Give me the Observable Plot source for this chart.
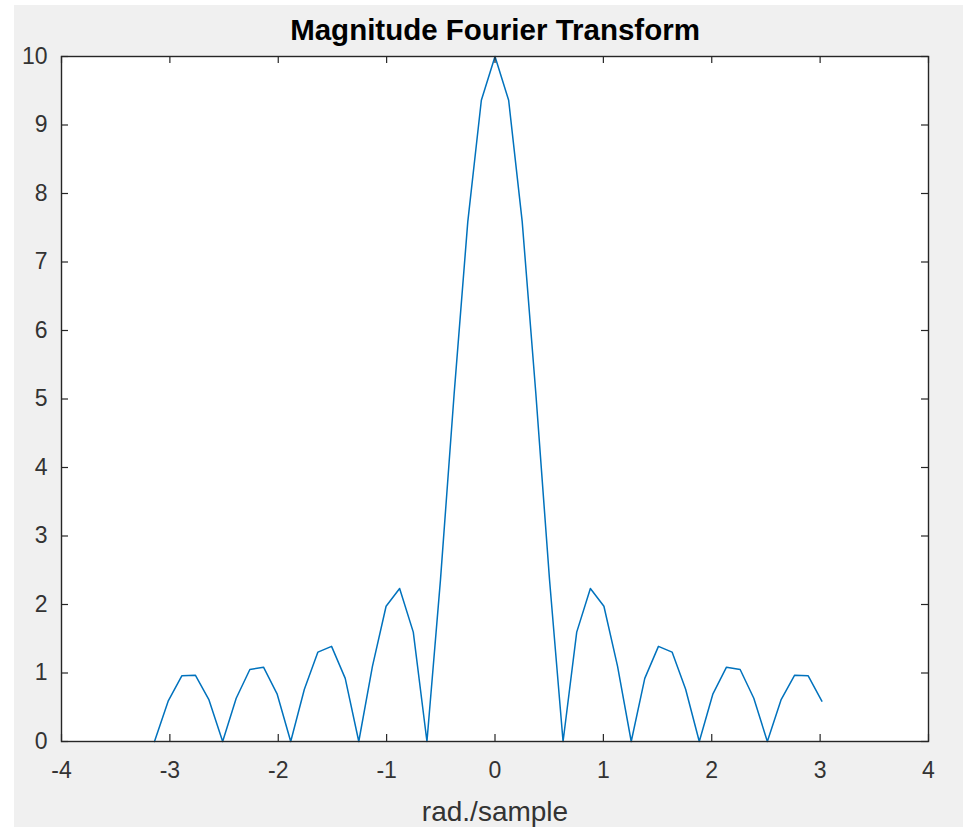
<!DOCTYPE html>
<html>
<head>
<meta charset="utf-8">
<script src="https://cdn.jsdelivr.net/npm/d3@7"></script>
<script src="https://cdn.jsdelivr.net/npm/@observablehq/plot@0.6"></script>
<style>
  html, body { margin: 0; padding: 0; background: #ffffff; }
  #bg { position: absolute; left: 14px; top: 5px; width: 949px; height: 822px; background: #f0f0f0; }
  #chart { position: absolute; left: 0; top: 0; }
</style>
</head>
<body>
<div id="bg"></div>
<div id="chart"></div>
<script>
// frequency samples (rad./sample)
const freq = [
  -3.142, -3.016, -2.890, -2.765, -2.639, -2.513, -2.388, -2.262, -2.136, -2.011,
  -1.885, -1.759, -1.634, -1.508, -1.382, -1.257, -1.131, -1.005, -0.880, -0.754,
  -0.628, -0.503, -0.377, -0.251, -0.126, 0.000, 0.126, 0.251, 0.377, 0.503,
  0.628, 0.754, 0.880, 1.005, 1.131, 1.257, 1.382, 1.508, 1.634, 1.759,
  1.885, 2.011, 2.136, 2.262, 2.388, 2.513, 2.639, 2.765, 2.890, 3.016
];
// magnitude values
const magnitude = [
  0.000, 0.589, 0.959, 0.968, 0.607, 0.000, 0.632, 1.051, 1.085, 0.696,
  0.000, 0.763, 1.305, 1.389, 0.922, 0.000, 1.097, 1.974, 2.234, 1.597,
  0.000, 2.364, 5.076, 7.589, 9.361, 10.000, 9.361, 7.589, 5.076, 2.364,
  0.000, 1.597, 2.234, 1.974, 1.097, 0.000, 0.922, 1.389, 1.305, 0.763,
  0.000, 0.696, 1.085, 1.051, 0.632, 0.000, 0.607, 0.968, 0.959, 0.589
];
const xTicks = [-4, -3, -2, -1, 0, 1, 2, 3, 4];
const yTicks = [0, 1, 2, 3, 4, 5, 6, 7, 8, 9, 10];
const titleText = "Magnitude Fourier Transform";
const xLabel = "rad./sample";

const data = freq.map((f, i) => ({f, m: magnitude[i]}));

const W = 963, H = 827;
const mL = 61, mT = 56, mR = 35, mB = 86;
const pw = W - mL - mR, ph = H - mT - mB;
const tk = 7;
const axisColor = "#262626";
const font = "'Liberation Sans', Arial, Helvetica, sans-serif";

const chart = Plot.plot({
  width: W,
  height: H,
  marginLeft: mL,
  marginTop: mT,
  marginRight: mR,
  marginBottom: mB,
  style: {background: "transparent", fontFamily: font, overflow: "visible"},
  x: {domain: [-4, 4], axis: null},
  y: {domain: [0, 10], axis: null},
  marks: [
    Plot.frame({fill: "white", stroke: null}),
    Plot.line(data, {x: "f", y: "m", stroke: "#0072BD", strokeWidth: 1.5}),
    Plot.tickX(xTicks, {x: d => d, stroke: axisColor, strokeWidth: 1.2, insetTop: ph - tk}),
    Plot.tickX(xTicks, {x: d => d, stroke: axisColor, strokeWidth: 1.2, insetBottom: ph - tk}),
    Plot.tickY(yTicks, {y: d => d, stroke: axisColor, strokeWidth: 1.2, insetRight: pw - tk}),
    Plot.tickY(yTicks, {y: d => d, stroke: axisColor, strokeWidth: 1.2, insetLeft: pw - tk}),
    Plot.frame({stroke: axisColor, strokeWidth: 1.4}),
    Plot.axisX(xTicks, {tickSize: 0, tickPadding: 20, fontSize: 23, fill: "#333333", label: null, tickFormat: d => d}),
    Plot.axisY(yTicks, {tickSize: 0, tickPadding: 14, fontSize: 23, fill: "#333333", label: null, tickFormat: d => d}),
    Plot.text([xLabel], {frameAnchor: "bottom", dy: 79, lineAnchor: "bottom", fontSize: 28, fill: "#333333"}),
    Plot.text([titleText], {frameAnchor: "top", dy: -17, lineAnchor: "bottom", fontSize: 29.5, fontWeight: "bold", fill: "#000000"})
  ]
});
document.getElementById("chart").appendChild(chart);
</script>
</body>
</html>
